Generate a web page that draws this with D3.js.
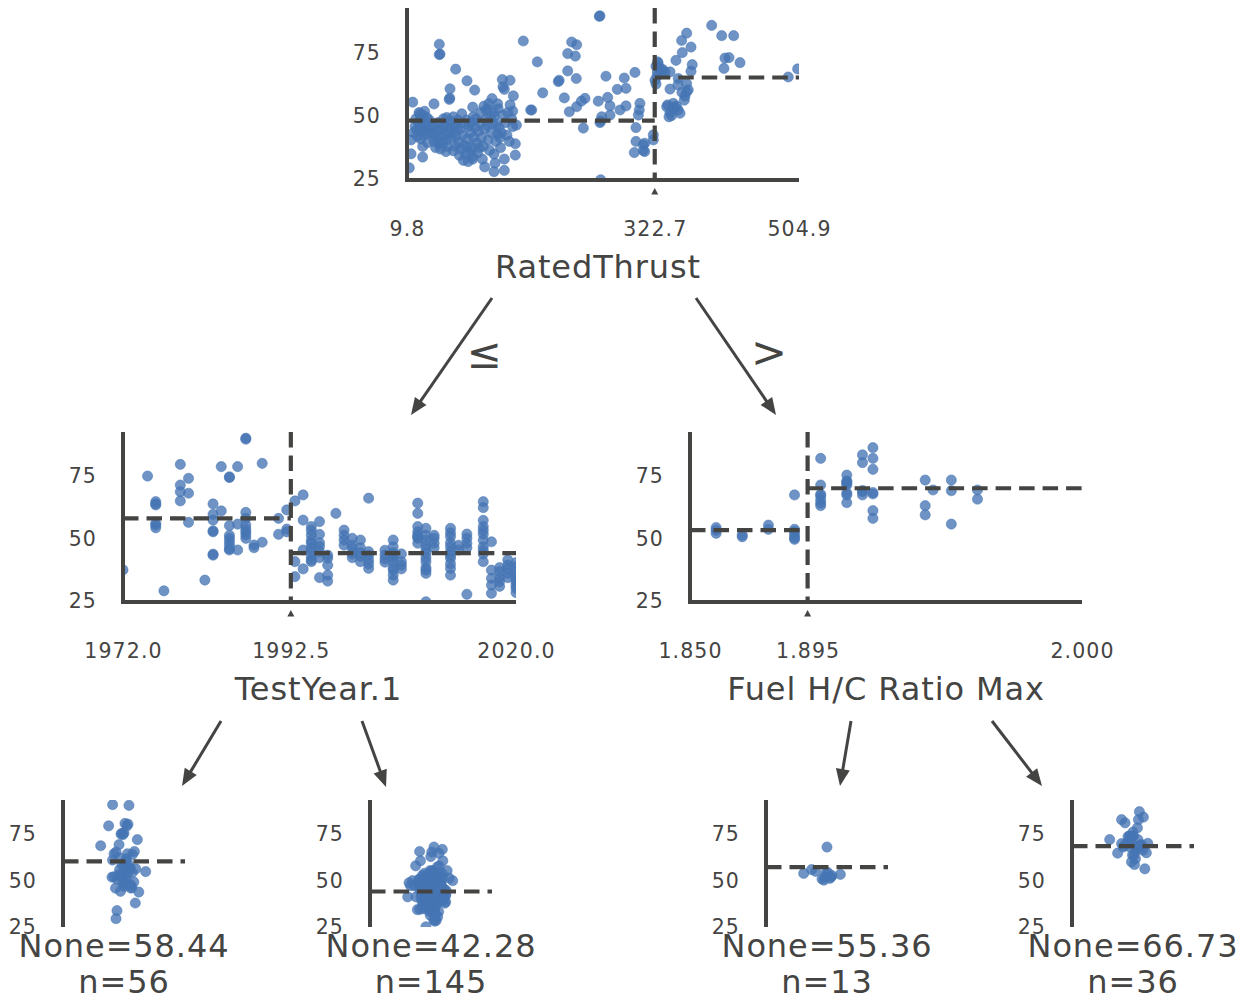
<!DOCTYPE html>
<html>
<head>
<meta charset="utf-8">
<script src="https://cdn.jsdelivr.net/npm/d3@7"></script>
<style>
  html, body { margin: 0; padding: 0; background: #ffffff; }
  svg text { font-family: "DejaVu Sans", sans-serif; }
</style>
</head>
<body>
<svg id="chart" width="1254" height="1000"></svg>
<script>
// ---- shared target range and ticks ----
const yDomain = [23.2, 91.5];
const yTicks = [25, 50, 75];

// ---- root split: RatedThrust ----
const rootFeature = "RatedThrust";
const rootDomain = [9.8, 504.9];
const rootSplit = 322.7;
const rootTickLabels = ["9.8", "322.7", "504.9"];
const rootMeans = [46.8, 63.9];
const rootPoints = [
  [252.7,88.2],[253.5,88.4],[217.8,78],[224.1,76.9],[212.8,73.4],[222.4,72.4],[174.4,70.1],[212.8,66.5],
  [200.9,62.3],[202,62.8],[223.6,63.5],[261.1,64.4],[284.2,63.7],[297.7,65.9],[181.2,57.8],[208.5,55.8],
  [230,54.5],[234.6,55.6],[224.1,52.3],[214.8,50.3],[275.4,59.2],[286.4,59.6],[263.3,56],[251.4,54.5],
  [266.2,52.6],[278.8,51],[286.4,52.6],[304,53.6],[303.2,51],[302,49],[266.2,49],[255.7,48.3],
  [253.5,46],[254.5,46.6],[232.5,43.8],[167.3,51],[299,44],[299,38.5],[308.2,37.2],[308.2,34.9],
  [296.9,34.1],[320.9,41.1],[320.9,39.1],[310,37.8],[310,34.5],[254.4,23.3],
  [50.6,77.1],[50.6,73],[51.5,73.2],[156.7,78.4],[71.3,67.2],[85.6,62.6],[95.3,58.9],[64.1,59.4],
  [63.2,55.2],[63.8,55.7],[17,54.1],[43.9,53.4],[130.2,63.1],[139.9,62.8],[132.7,59.2],[131,60.2],
  [144.1,56.6],[117.2,55.5],[124.3,53.4],[92.8,52.1],[109.6,51],[112,51.5],[143.3,50.6],[166,51],
  [29.6,49],[68.3,48.3],[93.5,48.3],[130.7,49],[43,45.1],[143.3,44.4],[14.9,39.1],[14.9,33.6],
  [12.7,28],[29.6,36.5],[29.6,32.3],[68.3,34.8],[146.6,37.6],[146.6,33.1],[119.7,33.5],[121,29.9],
  [119.7,26.5],[132.7,31.5],[132.7,27],[107.9,28.4],[92.8,31.5],
  [25,50],[27,48.5],[28,47],[26,45.5],[30,44],[29,42.5],[31,41],[27,39.5],[24,46],[22,43],
  [33,46],[35,48],[32,50.5],[34,43.5],[36,41.5],[23,40.5],[20,44.5],[18,42],[21,47.5],[26,49.5],
  [42,44],[45,41],[48,39],[50,37.5],[47,42.5],[52,40.5],[55,38],[53,43],[58,41],[60,39],
  [44,38.5],[57,45],[62,42.5],[49,46],[56,47.5],[64,44],[61,36.5],[66,40],[59,34.5],[46,36],
  [68,42],[70,45],[72,40.5],[75,38],[77,43.5],[80,41],[82,37],[78,35.5],[84,33.5],[86,39.5],
  [88,44.5],[90,42],[92,36],[74,47],[79,49.5],[85,47],[94,40],[96,44],[71,36.5],[81,31],
  [87,30.5],[89,34.5],[93,32.5],[76,33],
  [98,38],[100,42.5],[102,46],[104,40],[106,36.5],[108,43.5],[110,47.5],[112,39],[114,35],[116,42],
  [118,45.5],[120,48.5],[122,38.5],[124,41.5],[126,44],[103,50],[107,52.5],[113,53.5],[119,50],[125,51.5],
  [99,34],[105,31.5],[128,36],[127,40],
  [134,46],[137,50],[140,53],[142,47.5],[148,45],[136,41],[139,38.5],
  [38,47],[40,42],[55,44.5],[65,46.5],[73,44],[83,45.5],[91,46],[97,47.5],[101,36],[111,45],
  [115,48],[123,45.5],[129,42],[60,48],[36,38],[52,35.5],[86,36.5],
  [326.4,70.1],[329.3,66.8],[335.6,66.1],[323,62.8],[349.5,70.7],[342,66.1],[363,81.5],[356.7,78.6],
  [368.5,76],[357.5,73.8],[368.5,66.4],[394.6,84.6],[407.3,80.5],[422.4,80.5],[411.4,71.6],[416.5,71.8],
  [430.4,69.8],[410.1,67.5],[491.3,64.1],[503.2,67.3],[352.4,63.5],[363,61.5],[342,59.3],[363,58.2],
  [360.9,56.5],[360,54.9],[337.8,52.3],[346.1,53.6],[352.4,51],[354.6,49.7],[340.7,48.3],[324.3,68.4],
  [329.3,67.6],[325.6,64.4],[324.3,61.3],[327,69.5],[331,66],[333,67],[326,66],[345,51.5],
  [348,52],[350,52.5],[342,50],[357,58],[365,59],[352,61],[370,69],[339,53],[344,48.8]
];

// ---- left split: TestYear.1 ----
const leftFeature = "TestYear.1";
const leftDomain = [1972, 2020];
const leftSplit = 1992.5;
const leftTickLabels = ["1972.0", "1992.5", "2020.0"];
const leftMeans = [56.8, 42.8];
const leftPoints = [
  [1987,89],[1987,88.6],[1979,78.5],[1984,77.6],[1986,77.6],[1989,78.9],[1975,73.8],[1980,72.9],
  [1985,73.5],[1985,73.2],[1979,70.2],[1979,67.5],[1980,66.9],[1979,63.8],[1976,63.5],[1976,62.2],
  [1976,62.6],[1976,54.8],[1976,54.1],[1980,55.2],[1983,62.6],[1984,59.8],[1983,58.4],[1983,56.1],
  [1983,51.4],[1983,51.8],[1983,42],[1983,42.4],[1985,53.9],[1986,54.5],[1985,48.8],[1985,47.4],
  [1985,44.1],[1985,44.5],[1986,44.1],[1987,59.2],[1987,56.8],[1987,54.1],[1987,51.4],[1987,48.8],
  [1988,46.1],[1988,45],[1989,47.2],[1991,56.8],[1991,50.4],[1992,60.2],[1992,51.4],[1972,36.1],
  [1982,32],[1977,27.7],[1987,52.5],[1987,50.2],[1985,46],[1985,50],[1976,53],[1992,52.5],
  [1993,63.8],[1993,39.4],[1993,33.4],
  [1994,66.2],[1994,56.1],[1994,44.1],[1994,36.5],
  [1995,53.5],[1995,50.1],[1995,46.8],[1995,43.4],[1995,40.1],[1995,39.4],[1995,45],[1995,48],[1995,52],[1995,41.5],
  [1996,55.5],[1996,50.4],[1996,43.4],[1996,33],[1996,47],[1996,41],[1996,45.5],
  [1997,34],[1997,31.6],[1997,40.8],[1997,42],[1997,38],
  [1998,58.8],
  [1999,52.1],[1999,48.1],[1999,46],[1999,50],
  [2000,48.8],[2000,44.8],[2000,42.5],[2000,41],[2000,46],
  [2001,48.1],[2001,39.4],[2001,41.5],[2001,43],[2001,45],
  [2002,43.4],[2002,40.1],[2002,36.7],[2002,64.9],[2002,42],[2002,38.5],
  [2004,42.1],[2004,39.2],[2004,40.5],[2004,44],
  [2005,48.1],[2005,45.4],[2005,39.4],[2005,34],[2005,32],[2005,41],[2005,43],[2005,37],[2005,36],[2005,42],
  [2006,39.4],[2006,36.5],[2006,42.5],[2006,38],
  [2008,62.9],[2008,58.8],[2008,51.4],[2008,48.8],[2008,46.8],[2008,50],[2008,53.5],[2008,49.5],
  [2009,52.8],[2009,48.1],[2009,42.8],[2009,39.4],[2009,34.7],[2009,23.3],[2009,44.5],[2009,46],
  [2009,50],[2009,37],[2009,41],[2009,36],
  [2010,48.8],[2010,46.8],[2010,45],[2010,50],
  [2012,52.8],[2012,45.4],[2012,43.4],[2012,40.8],[2012,36.7],[2012,34],[2012,47],[2012,49.5],
  [2012,42],[2012,38.5],[2012,51],
  [2013,44.1],[2013,46],
  [2014,48.8],[2014,46.8],[2014,26.3],[2014,50.5],[2014,45],
  [2016,63.5],[2016,61.1],[2016,53.5],[2016,48.1],[2016,45.4],[2016,39.4],[2016,50.5],[2016,52],
  [2016,42.5],[2016,44],[2016,56],
  [2017,47.4],[2017,32.7],[2017,26.7],[2017,36],[2017,30],
  [2018,35.4],[2018,31.4],[2018,33],[2018,29.5],[2018,37],
  [2019,40.1],[2019,34.7],[2019,38],[2019,36.5],[2019,33],
  [2020,37.4],[2020,34],[2020,31.4],[2020,28.7],[2020,35.5],[2020,30],[2020,32.5],[2020,27],[2020,39]
];

// ---- right split: Fuel H/C Ratio Max ----
const rightFeature = "Fuel H/C Ratio Max";
const rightDomain = [1.85, 2.0];
const rightSplit = 1.895;
const rightTickLabels = ["1.850", "1.895", "2.000"];
const rightMeans = [52.1, 68.9];
const rightPoints = [
  [1.86,53.1],[1.86,50.8],[1.87,50.1],[1.87,49.4],[1.88,54.1],[1.88,52.4],[1.89,66.2],[1.89,52.4],
  [1.89,50.1],[1.89,48.4],[1.89,51.5],[1.89,49],[1.86,52],
  [1.90,80.9],[1.90,70.2],[1.90,65.8],[1.90,64.2],[1.90,62.9],[1.90,61.9],[1.91,74.2],[1.91,71.5],
  [1.91,70.9],[1.91,66.2],[1.91,63.1],[1.91,71.8],[1.91,70.2],[1.916,82.3],[1.916,79.2],[1.916,67.5],
  [1.916,66.2],[1.92,85.2],[1.92,80.9],[1.92,76.5],[1.92,66.6],[1.92,59.9],[1.92,56.8],[1.94,72.2],
  [1.94,61.9],[1.94,58.2],[1.943,68.2],[1.95,72.2],[1.95,67.9],[1.95,54.5],[1.96,68.2],[1.96,64.5],
  [1.91,67],[1.92,67.2],[1.90,66.5],[1.916,68]
];

// ---- leaves ----
const leafValues = [58.44, 42.28, 55.36, 66.73];
const leafCounts = [56, 145, 13, 36];

// ---- drawing ----
const GREY = "#444443";
const BLUE = "#4575b4";
const FONT = "'DejaVu Sans', sans-serif";
const TICK_SIZE = 20.5, TICK_SPACING = 1.1;
const BIG_SIZE = 32, BIG_SPACING = 0.9;
const svg = d3.select("#chart");
const defs = svg.append("defs");
let clipCount = 0;

function clipRect(x, y, w, h) {
  const id = "clip" + (clipCount++);
  defs.append("clipPath").attr("id", id)
    .append("rect").attr("x", x).attr("y", y).attr("width", w).attr("height", h);
  return `url(#${id})`;
}

function dashed(g, x1, y1, x2, y2) {
  g.append("line")
    .attr("x1", x1).attr("y1", y1).attr("x2", x2).attr("y2", y2)
    .attr("stroke", GREY).attr("stroke-width", 4.2)
    .attr("stroke-dasharray", "15.5,8");
}

function dots(sel) {
  sel.attr("r", 5.1)
    .attr("fill", BLUE).attr("fill-opacity", 0.78)
    .attr("stroke", BLUE).attr("stroke-opacity", 0.5).attr("stroke-width", 1);
}

function bigText(sel) {
  sel.attr("text-anchor", "middle").attr("font-size", BIG_SIZE)
    .attr("letter-spacing", BIG_SPACING).attr("fill", GREY);
}

function yAxis(g, y, x0) {
  const ax = d3.axisLeft(y).tickValues(yTicks).tickSize(0).tickPadding(26);
  const ag = g.append("g").attr("transform", `translate(${x0},0)`).call(ax);
  ag.select(".domain").remove();
  ag.attr("font-family", FONT).attr("font-size", TICK_SIZE);
  ag.selectAll("text").attr("fill", GREY).attr("dy", "0.48em")
    .attr("letter-spacing", TICK_SPACING);
}

function splitNode(box, points, domain, split, means, tickLabels, feature, labelShift) {
  const x = d3.scaleLinear().domain(domain).range([box.x0, box.x1]);
  const y = d3.scaleLinear().domain(yDomain).range([box.y1, box.y0]);
  const g = svg.append("g");

  g.append("g")
    .attr("clip-path", clipRect(box.x0, box.y0, box.x1 - box.x0, box.y1 - box.y0))
    .selectAll("circle").data(points).join("circle")
    .attr("cx", d => x(d[0])).attr("cy", d => y(d[1]))
    .call(dots);

  // mean of each side, then the split threshold
  dashed(g, x(domain[0]), y(means[0]), x(split), y(means[0]));
  dashed(g, x(split), y(means[1]), x(domain[1]), y(means[1]));
  dashed(g, x(split), box.y0, x(split), box.y1);

  // spines
  g.append("path")
    .attr("d", `M${box.x0},${box.y0}V${box.y1}H${box.x1}`)
    .attr("fill", "none").attr("stroke", GREY).attr("stroke-width", 4)
    .attr("stroke-linejoin", "miter");

  yAxis(g, y, box.x0);

  const xa = d3.axisBottom(x)
    .tickValues([domain[0], split, domain[1]])
    .tickFormat((d, i) => tickLabels[i])
    .tickSize(0);
  const xg = g.append("g").attr("transform", `translate(0,${box.y1})`).call(xa);
  xg.select(".domain").remove();
  xg.attr("font-family", FONT).attr("font-size", TICK_SIZE);
  xg.selectAll("text").attr("fill", GREY).attr("y", 56).attr("dy", 0)
    .attr("letter-spacing", TICK_SPACING);

  // split marker
  const sx = x(split);
  g.append("path")
    .attr("d", `M${sx},${box.y1 + 8}l-3.5,6.5h7z`)
    .attr("fill", GREY);

  g.append("text")
    .attr("x", (box.x0 + box.x1) / 2 + labelShift).attr("y", box.y1 + 98)
    .call(bigText)
    .text(feature);
}

splitNode({x0: 407, x1: 799, y0: 8, y1: 180}, rootPoints, rootDomain, rootSplit,
          rootMeans, rootTickLabels, rootFeature, -5);
splitNode({x0: 123, x1: 516, y0: 432, y1: 602}, leftPoints, leftDomain, leftSplit,
          leftMeans, leftTickLabels, leftFeature, -1);
splitNode({x0: 690, x1: 1082, y0: 432, y1: 602}, rightPoints, rightDomain, rightSplit,
          rightMeans, rightTickLabels, rightFeature, 0);

// leaf samples, split by each child's threshold
const leafSamples = [
  leftPoints.filter(d => d[0] <= leftSplit).map(d => d[1]),
  leftPoints.filter(d => d[0] > leftSplit).map(d => d[1]),
  rightPoints.filter(d => d[0] <= rightSplit).map(d => d[1]),
  rightPoints.filter(d => d[0] > rightSplit).map(d => d[1])
];

// deterministic horizontal spread for the strip plots
function spread(i) {
  const f = v => v - Math.floor(v);
  return (f(i * 0.6180339) + f(i * 0.7548776 + 0.3) + f(i * 0.5698403 + 0.6)) / 1.5 - 1;
}

const leafX = [63, 370, 766, 1072];
const leafTop = 800, leafBottom = 927, leafWidth = 122;

leafSamples.forEach((vals, k) => {
  const x0 = leafX[k];
  const cx = x0 + 61;
  const y = d3.scaleLinear().domain(yDomain).range([leafBottom, leafTop]);
  const g = svg.append("g");

  g.append("g")
    .attr("clip-path", clipRect(x0, leafTop, leafWidth + 20, leafBottom - leafTop))
    .selectAll("circle").data(vals).join("circle")
    .attr("cx", (d, i) => cx + spread(i + 1) * 26)
    .attr("cy", d => y(d))
    .call(dots);

  dashed(g, x0, y(leafValues[k]), x0 + leafWidth, y(leafValues[k]));

  g.append("line")
    .attr("x1", x0).attr("y1", leafTop).attr("x2", x0).attr("y2", leafBottom)
    .attr("stroke", GREY).attr("stroke-width", 4);

  yAxis(g, y, x0);

  g.append("text").attr("x", cx).attr("y", 957).call(bigText)
    .text("None=" + leafValues[k].toFixed(2));
  g.append("text").attr("x", cx).attr("y", 993).call(bigText)
    .text("n=" + leafCounts[k]);
});

// edges between nodes
const edges = [
  [492, 298, 411, 415], [696, 298, 776, 415],
  [221, 721, 182, 786], [362, 721, 386, 787],
  [851, 721, 840, 786], [992, 721, 1042, 786]
];
edges.forEach(([x1, y1, x2, y2]) => {
  const len = Math.hypot(x2 - x1, y2 - y1);
  const ux = (x2 - x1) / len, uy = (y2 - y1) / len;
  const head = 17, half = 7;
  const bx = x2 - ux * head, by = y2 - uy * head;
  svg.append("line")
    .attr("x1", x1).attr("y1", y1).attr("x2", bx + ux * 2).attr("y2", by + uy * 2)
    .attr("stroke", GREY).attr("stroke-width", 3);
  svg.append("path")
    .attr("d", `M${x2},${y2}L${bx - uy * half},${by + ux * half}L${bx + uy * half},${by - ux * half}Z`)
    .attr("fill", GREY);
});

// branch labels
svg.append("text").attr("x", 484).attr("y", 368).attr("text-anchor", "middle")
  .attr("font-size", 42).attr("fill", GREY).text("≤");
svg.append("text").attr("x", 769).attr("y", 367).attr("text-anchor", "middle")
  .attr("font-size", 43).attr("fill", GREY).text(">");
</script>
</body>
</html>
